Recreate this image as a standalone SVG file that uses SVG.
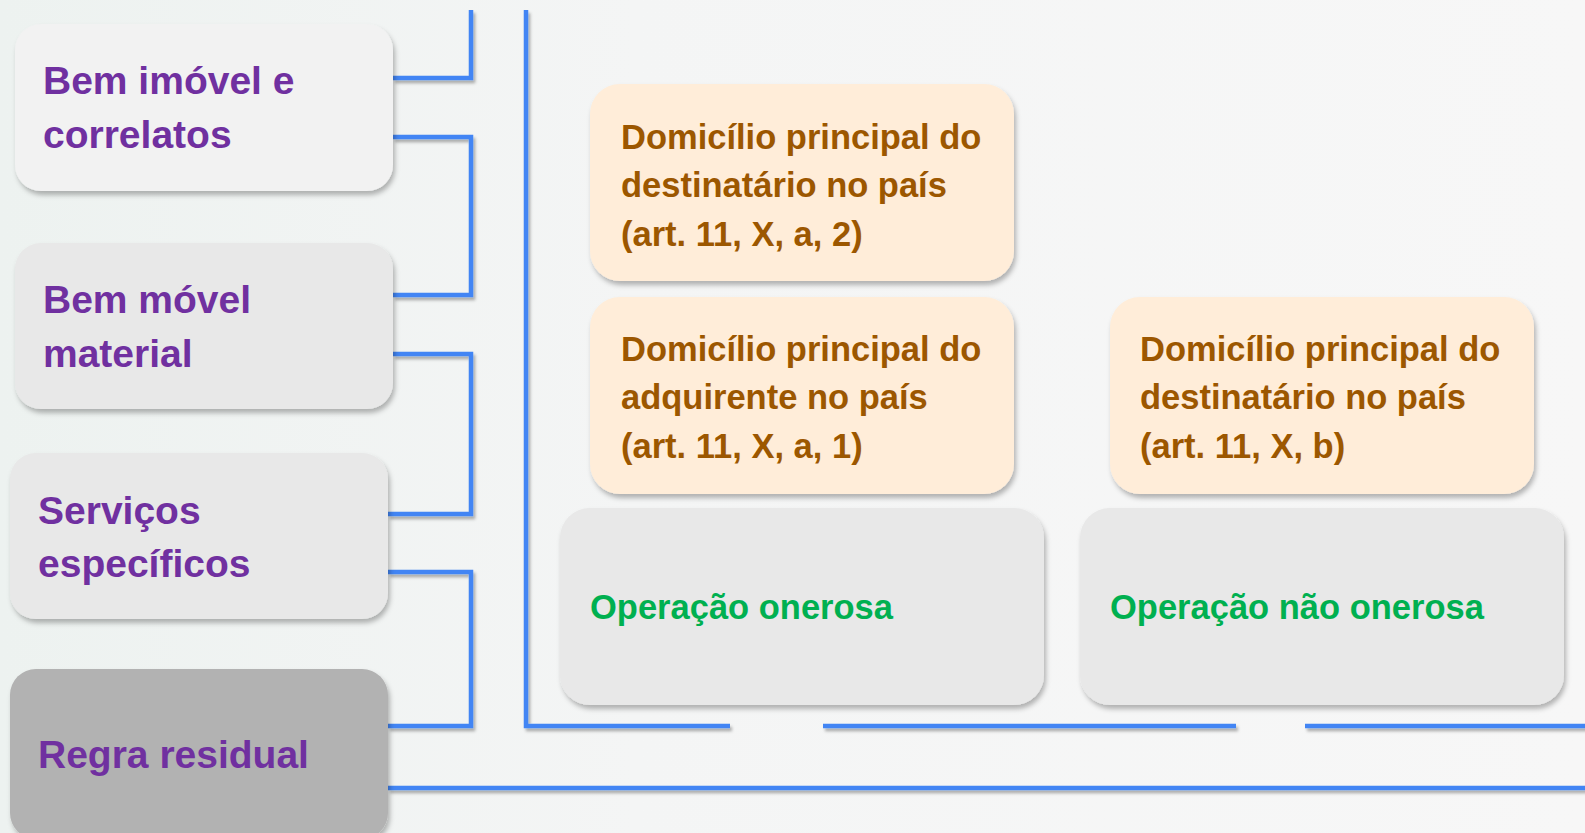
<svg xmlns="http://www.w3.org/2000/svg" width="1585" height="833" viewBox="0 0 1585 833">
<defs>
<linearGradient id="bg" x1="0" y1="0" x2="1" y2="0">
<stop offset="0" stop-color="#EDF2F0"/>
<stop offset="0.4" stop-color="#F4F5F5"/>
<stop offset="1" stop-color="#F7F7F7"/>
</linearGradient>
<filter id="sh" x="-10%" y="-10%" width="125%" height="130%">
<feDropShadow dx="2" dy="4" stdDeviation="2.5" flood-color="#000" flood-opacity="0.28"/>
</filter>
<filter id="lsh" filterUnits="userSpaceOnUse" x="0" y="0" width="1585" height="833">
<feDropShadow dx="2" dy="3" stdDeviation="1.5" flood-color="#000" flood-opacity="0.3"/>
</filter>
<style>
.t{font-family:"Liberation Sans",Arial,sans-serif;font-weight:bold}
.lbl{font-size:39px;fill:#7030A0}
.org{font-size:34.5px;fill:#9C5700}
.grn{font-size:34.5px;fill:#00B050}
.c{fill:none;stroke:#4285F4;stroke-width:4.5}
</style>
</defs>
<rect width="1585" height="833" fill="url(#bg)"/>
<g id="connectors" filter="url(#lsh)">
<polyline class="c" points="471,10 471,78 393,78"/>
<polyline class="c" points="393,137 471,137 471,295 393,295"/>
<polyline class="c" points="393,354 471,354 471,514 388,514"/>
<polyline class="c" points="388,572 471,572 471,726 388,726"/>
<polyline class="c" points="526,10 526,726 730,726"/>
<line class="c" x1="823" y1="726" x2="1236" y2="726"/>
<line class="c" x1="1305" y1="726" x2="1590" y2="726"/>
<line class="c" x1="388" y1="788" x2="1590" y2="788"/>
</g>
<g id="n-imovel">
<rect x="15" y="24" width="378" height="167" rx="26" fill="#F2F2F2" filter="url(#sh)"/>
<text class="t lbl" x="43" y="94">Bem imóvel e</text>
<text class="t lbl" x="43" y="148">correlatos</text>
</g>
<g id="n-movel">
<rect x="15" y="243" width="378" height="166" rx="26" fill="#E8E8E8" filter="url(#sh)"/>
<text class="t lbl" x="43" y="313">Bem móvel</text>
<text class="t lbl" x="43" y="367">material</text>
</g>
<g id="n-servicos">
<rect x="10" y="453" width="378" height="166" rx="26" fill="#E8E8E8" filter="url(#sh)"/>
<text class="t lbl" x="38" y="524">Serviços</text>
<text class="t lbl" x="38" y="577">específicos</text>
</g>
<g id="n-residual">
<rect x="10" y="669" width="378" height="170" rx="26" fill="#B2B2B2" filter="url(#sh)"/>
<text class="t lbl" x="38" y="768">Regra residual</text>
</g>
<g id="n-dest-a2">
<rect x="590" y="84" width="424" height="197" rx="30" fill="#FFEDD9" filter="url(#sh)"/>
<text class="t org" x="621" y="149">Domicílio principal do</text>
<text class="t org" x="621" y="197">destinatário no país</text>
<text class="t org" x="621" y="246">(art. 11, X, a, 2)</text>
</g>
<g id="n-adq-a1">
<rect x="590" y="297" width="424" height="197" rx="30" fill="#FFEDD9" filter="url(#sh)"/>
<text class="t org" x="621" y="361">Domicílio principal do</text>
<text class="t org" x="621" y="409">adquirente no país</text>
<text class="t org" x="621" y="458">(art. 11, X, a, 1)</text>
</g>
<g id="n-dest-b">
<rect x="1110" y="297" width="424" height="197" rx="30" fill="#FFEDD9" filter="url(#sh)"/>
<text class="t org" x="1140" y="361">Domicílio principal do</text>
<text class="t org" x="1140" y="409">destinatário no país</text>
<text class="t org" x="1140" y="458">(art. 11, X, b)</text>
</g>
<g id="n-onerosa">
<rect x="560" y="508" width="484" height="197" rx="30" fill="#E8E8E8" filter="url(#sh)"/>
<text class="t grn" x="590" y="619">Operação onerosa</text>
</g>
<g id="n-nao-onerosa">
<rect x="1080" y="508" width="484" height="197" rx="30" fill="#E8E8E8" filter="url(#sh)"/>
<text class="t grn" x="1110" y="619">Operação não onerosa</text>
</g>
</svg>
